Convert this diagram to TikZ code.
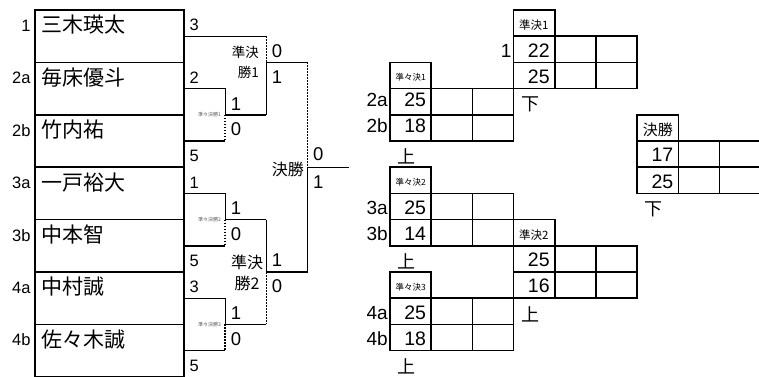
\documentclass[tikz,border=0pt]{standalone}
\usepackage{fontspec}
\setmainfont{Liberation Sans}
\newfontfamily\jpfont{Noto Sans CJK JP}
\newcommand\fs[1]{\fontsize{#1}{#1}\selectfont}

\begin{document}
\begin{tikzpicture}[x=41.2pt,y=-26.2pt,
  bline/.style={line width=1.4pt},
  dotline/.style={line width=1.7pt,dash pattern=on 1.5pt off 1.5pt},
  cell/.style={line width=1.6pt},
  txt/.style={inner sep=0pt,font=\fs{17}}]

  \useasboundingbox (-4.466,-0.382) rectangle (13.956,13.969);
  \clip (-4.466,-0.382) rectangle (13.956,13.969);

  % entry boxes
  \foreach \seed/\name/\row in {
    1/三木瑛太/0,
    2a/毎床優斗/2,
    2b/竹内祐/4,
    3a/一戸裕大/6,
    3b/中本智/8,
    4a/中村誠/10,
    4b/佐々木誠/12
  } {
    \draw[cell] (-3.617,\row) rectangle (0,\row+2);
    \node[txt, anchor=base east, font=\fs{16.5}] (seed\seed) at (-3.72,\row+0.82) {\seed};
    \node[txt, anchor=west, font=\jpfont\fs{21}] (name\seed) at (-3.47,\row+0.57) {\name};
  }

  % first round scores
  \foreach \k/\y/\sc in {1/0.8/3, 2/2.8/2, 3/5.8/5, 4/6.8/1, 5/9.8/5, 6/10.8/3, 7/13.8/5} {
    \node[txt, anchor=base west, font=\fs{16.5}] (first\k) at (0.13,\y) {\sc};
  }

  % quarter finals
  \draw[bline] (0,1) -- (2,1);
  \foreach \k/\top in {1/3, 2/7, 3/11} {
    \draw[bline] (0,\top) -- (1,\top) -- (1,\top+1) -- (2,\top+1);
    \draw[dotline] (1,\top+1) -- (1,\top+2);
    \draw[bline] (0,\top+2) -- (1,\top+2);
    \node[inner sep=0pt, font=\jpfont\fs{5}, gray!70!black] (qf\k) at (0.62,\top+1) {準々決勝\k};
    \node[txt, anchor=base west, font=\fs{18.5}] (qf\k-win) at (1.13,\top+0.82) {1};
    \node[txt, anchor=base west, font=\fs{18.5}] (qf\k-lose) at (1.13,\top+1.8) {0};
  }

  % semi finals
  \draw[dotline] (2,1) -- (2,2);
  \draw[bline] (2,4) -- (2,2) -- (3,2);
  \node[txt, anchor=base west, font=\fs{18.5}] (sf1-a) at (2.13,1.8) {0};
  \node[txt, anchor=base west, font=\fs{18.5}] (sf1-b) at (2.13,2.8) {1};
  \node[align=right, anchor=east, inner sep=0pt, font=\jpfont\fs{13.5}] (sf1) at (1.82,2.0) {準決\\[7pt]勝1};

  \draw[bline] (2,8) -- (2,10) -- (3,10);
  \draw[dotline] (2,10) -- (2,12);
  \node[txt, anchor=base west, font=\fs{18.5}] (sf2-a) at (2.13,9.8) {1};
  \node[txt, anchor=base west, font=\fs{18.5}] (sf2-b) at (2.13,10.8) {0};
  \node[align=center, inner sep=0pt, font=\jpfont\fs{16}] (sf2) at (1.53,10.02) {準決\\[5pt]勝2};

  % final
  \draw[dotline] (3,2) -- (3,6);
  \draw[bline] (3,10) -- (3,6) -- (4,6);
  \node[txt, anchor=base west, font=\fs{18.5}] (fin-a) at (3.13,5.75) {0};
  \node[txt, anchor=base west, font=\fs{18.5}] (fin-b) at (3.13,6.8) {1};
  \node[inner sep=0pt, font=\jpfont\fs{16}] (fin) at (2.52,6.1) {決勝};

  % score sheets
  \foreach \id/\cx/\cy/\head/\hs/\ta/\tb/\sa/\sb/\mark/\bo in {
    qf1/5/2/準々決1/8.5/2a/2b/25/18/上/0.68,
    qf2/5/6/準々決2/8.5/3a/3b/25/14/上/0.8,
    qf3/5/10/準々決3/8.5/4a/4b/25/18/上/0.8,
    sf1/8/0/準決1/11.5/1/ /22/25/下/0.8,
    sf2/8/8/準決2/11.5/ / /25/16/上/0.8,
    fin/11/4/決勝/15/ / /17/25/下/0.8
  } {
    \draw[cell] (\cx,\cy) rectangle +(1,1);
    \foreach \c in {0,1,2} \foreach \r in {1,2}
      \draw[cell] (\cx+\c,\cy+\r) rectangle +(1,1);
    \node[inner sep=0pt, anchor=west, font=\jpfont\fs{\hs}] (\id-head) at (\cx+0.13,\cy+0.58) {\head};
    \node[txt, anchor=base east, font=\fs{19}] (\id-ta) at (\cx-0.05,\cy+1+\bo) {\ta};
    \node[txt, anchor=base east, font=\fs{19}] (\id-tb) at (\cx-0.05,\cy+2+\bo) {\tb};
    \node[txt, anchor=base east, font=\fs{19.5}] (\id-sa) at (\cx+0.88,\cy+1+\bo) {\sa};
    \node[txt, anchor=base east, font=\fs{19.5}] (\id-sb) at (\cx+0.88,\cy+2+\bo) {\sb};
    \node[inner sep=0pt, font=\jpfont\fs{18}] (\id-mark) at (\cx+0.4,\cy+3.6) {\mark};
  }
\end{tikzpicture}
\end{document}
